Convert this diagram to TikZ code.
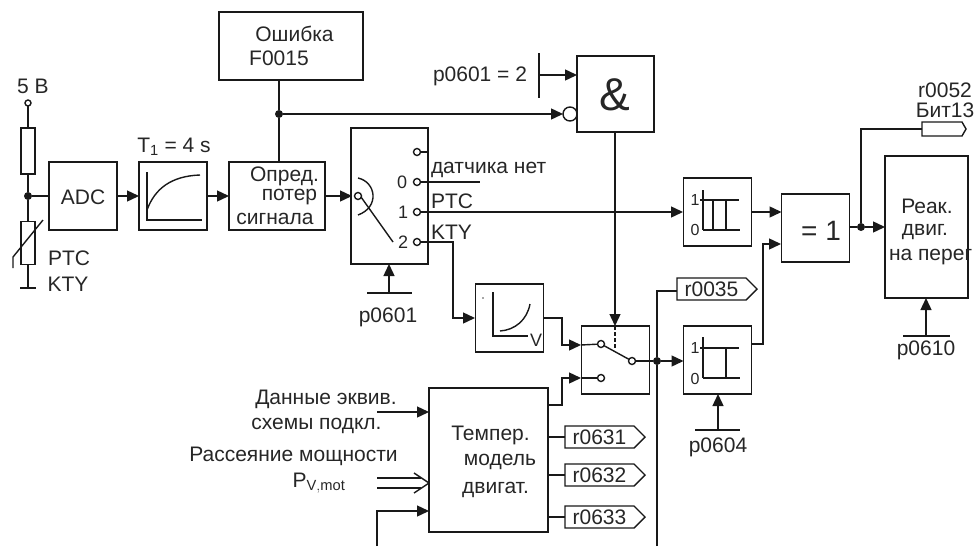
\documentclass[tikz,border=0pt]{standalone}
\usepackage{fontspec}
\setmainfont{Liberation Sans}
\usetikzlibrary{arrows.meta,shapes.symbols,calc}
\tikzset{
  x=1pt,y=-1pt,
  every node/.style={inner sep=0pt,outer sep=0pt,text=black!85},
  ln/.style={line width=1.4pt,draw=black!90},
  blockbox/.style={draw=black!90,line width=1.4pt,rectangle,minimum width=#1},
  blockbox/.default=68pt,
  txt/.style={font=\fontsize{21}{23}\selectfont},
  small/.style={font=\fontsize{16}{18}\selectfont},
  tag/.style={signal,signal to=east,draw=black!90,line width=1.4pt,minimum width=80pt,minimum height=22pt,font=\fontsize{21}{23}\selectfont},
  term/.style={circle,draw=black!90,line width=1.4pt,fill=white,minimum size=7pt},
  dotj/.style={circle,fill=black!90,minimum size=8pt},
  arr/.style={ln,-{Triangle[length=12pt,width=11pt]}},
}
\begin{document}
\begin{tikzpicture}
\useasboundingbox (0,0) rectangle (974,546);
% blocks
\node[blockbox,minimum width=68pt,minimum height=68pt] (adc) at (83,196) {};
\node[txt] at (83,197) {ADC};
\node[blockbox,minimum height=68pt] (lag) at (173,196) {};
\node[blockbox,minimum width=96pt,minimum height=68pt] (det) at (277,196) {};
\node[blockbox,minimum width=144pt,minimum height=68pt] (err) at (291,46) {};
\node[blockbox,minimum width=77pt,minimum height=136pt] (sel) at (389.5,196) {};
\node[blockbox,minimum width=77pt,minimum height=76pt] (and) at (615.5,94) {};
\node[blockbox,minimum height=68pt] (vblk) at (509.5,318) {};
\node[blockbox,minimum height=68pt] (sw) at (615.5,360) {};
\node[blockbox,minimum width=119pt,minimum height=144pt] (model) at (488.5,460) {};
\node[blockbox,minimum height=68pt] (hyst) at (717.5,212) {};
\node[blockbox,minimum height=68pt] (comp) at (717.5,360) {};
\node[blockbox,minimum height=68pt] (xor) at (815.5,228) {};
\node[blockbox,minimum width=83pt,minimum height=142pt] (react) at (926.5,227) {};
% tags
\node[tag] (t35) at (711.5,289) {r0035};
\node[tag] (t31) at (599.5,437) {r0631};
\node[tag] (t32) at (599.5,475) {r0632};
\node[tag] (t33) at (599.5,517) {r0633};
\node[tag,signal pointer angle=120,minimum width=44pt,minimum height=14pt] (t52) at (942,129) {};
% block texts
\node[txt] at (294.5,34) {Ошибка};
\node[txt] at (279,58) {F0015};
\node[txt] at (284.5,176) {Опред.};
\node[txt] at (289.5,197) {потер};
\node[txt] at (275,219) {сигнала};
\node[txt,font=\fontsize{46}{48}\selectfont] at (615,95) {\&};
\node[txt,font=\fontsize{28}{30}\selectfont] at (821,231) {= 1};
\node[txt] at (927,206) {Реак.};
\node[txt] at (925,232) {двиг.};
\begin{scope}
\clip (887,245) rectangle (971,270);
\node[txt,anchor=west] at (889,257) {на перег};
\end{scope}
\node[txt] at (490.5,435) {Темпер.};
\node[txt] at (500,462) {модель};
\node[txt] at (495.5,490) {двигат.};
% labels
\node[txt] (l5v) at (33,86) {5 В};
\node[txt] (lptc) at (69,258) {PTC};
\node[txt] (lkty) at (68,284) {KTY};
\node[txt] (lt1) at (174,147) {T$_{\mathrm 1}$ = 4 s};
\node[txt] (lp2) at (480,76) {p0601 = 2};
\node[txt,anchor=west] (ln0) at (431,170) {датчика нет};
\node[txt,anchor=west] (lnp) at (431,201) {PTC};
\node[txt,anchor=west] (lnk) at (431,232) {KTY};
\node[small,font=\fontsize{18}{20}\selectfont] (n0) at (402,182) {0};
\node[small,font=\fontsize{18}{20}\selectfont] (n1) at (403,212) {1};
\node[small,font=\fontsize{18}{20}\selectfont] (n2) at (403,242) {2};
\node[txt] (lp601) at (388,317) {p0601};
\node[txt] (lp604) at (718,447) {p0604};
\node[txt] (lp610) at (926,350) {p0610};
\node[txt] (l52) at (945,90) {r0052};
\node[txt] (lbit) at (945,110) {Бит13};
\node[txt] (ld1) at (326,399) {Данные эквив.};
\node[txt] (ld2) at (316.5,426) {схемы подкл.};
\node[txt] (lr) at (293.5,456) {Рассеяние мощности};
\node[txt] (lpv) at (319,483) {P$_{\mathrm{V,mot}}$};
\node[small,font=\fontsize{18}{20}\selectfont] (lv) at (536,340) {V};
\node[small] (h1) at (695,200) {1};
\node[small] (h0) at (695,230) {0};
\node[small] (c1) at (695,348) {1};
\node[small] (c0) at (695,379) {0};
% sensor branch
\node[term,minimum size=6pt] (v5) at (28,103) {};
\node[blockbox,minimum width=14pt,minimum height=46pt] (res) at (28,151) {};
\node[blockbox,minimum width=14pt,minimum height=43pt] (ptc) at (28,243) {};
\node[dotj] (j1) at (28,196) {};
\coordinate (gnd) at (28,288);
\draw[ln] (v5) -- (res) -- (j1) -- (ptc) -- (gnd);
\draw[ln] (20,288) -- (36,288);
\draw[ln] (j1) -- (adc);
\draw[ln] (13,268) -- (13,257) -- (43,220);
\draw[arr] (adc) -- (lag);
\draw[arr] (lag) -- (det);
\draw[ln] (147,172) -- (147,220) -- (202,220);
\draw[ln] (147,210) .. controls (155,188) and (172,176) .. (200,175);
% error
\node[dotj] (j2) at (279,114) {};
\draw[ln] (err.south -| j2) -- (j2) -- (det.north -| j2);
\node[term,minimum size=14pt] (neg) at (570,114) {};
\draw[arr] (j2) -- (neg);
% p0601=2
\coordinate (barA) at (539,75);
\draw[ln] (539,53) -- (539,98);
\coordinate (andIn) at (577,75);
\draw[arr] (barA) -- (andIn);
% selector
\node[term] (s0) at (358,196) {};
\draw[arr] (det.east) -- (352,196);
\node[term] (c3) at (417,152) {};
\node[term] (c4) at (417,182) {};
\node[term] (c5) at (417,212) {};
\node[term] (c6) at (417,242) {};
\draw[ln] (c3) -- (428,152);
\coordinate (e0) at (480,182);
\draw[ln] (c4) -- (e0);
\coordinate (hi) at (683,212);
\draw[arr] (c5) -- (hi);
\coordinate (vIn) at (475,318);
\draw[arr] (c6) -- (453,242) -- (453,318) -- (vIn);
\draw[ln] (361,197) -- (393,242);
\draw[ln] (358,178) .. controls (376,182) and (380,207) .. (358,215);
\coordinate (b601) at (389,293);
\draw[ln] (367,293) -- (412,293);
\draw[arr] (b601) -- (sel.south -| b601);
% V block
\draw[ln] (493,292) -- (493,336) -- (528,336);
\draw[ln] (500,331) .. controls (515,330) and (527,320) .. (530,304);
\fill[black!70] (483,298) circle (.8pt);
% switch
\coordinate (swT) at (615,326);
\draw[arr] (and.south -| swT) -- (swT);
\draw[ln,dash pattern=on 4pt off 2pt] (615,326) -- (615,348);
\node[term] (k1) at (601,344) {};
\node[term] (k2) at (601,378) {};
\node[term] (k3) at (632,361) {};
\coordinate (swA) at (581,345);
\coordinate (swB) at (581,378);
\draw[ln] (k1) -- (k3);
\draw[arr] (vblk.east |- 0,318) -- (562,318) -- (562,345) -- (swA);
\draw[arr] (model.east |- 0,405) -- (562,405) -- (562,378) -- (swB);
\draw[ln] (swA) -- (k1);
\draw[ln] (swB) -- (k2);
\node[dotj] (j3) at (657,361) {};
\draw[ln] (k3) -- (j3);
\draw[arr] (j3) -- (comp.west |- j3);
\coordinate (vb) at (657,546);
\draw[ln] (vb) -- (j3) -- (657,291) -- (t35.west |- 0,291);
% model outputs
\draw[ln] (model.east |- t31) -- (t31.west);
\draw[ln] (model.east |- t32) -- (t32.west);
\draw[ln] (model.east |- t33) -- (t33.west);
% model inputs
\coordinate (mi1) at (377,412);
\draw[arr] (mi1) -- (model.west |- mi1);
\coordinate (mi3) at (377,546);
\draw[arr] (mi3) -- (377,511) -- (429,511);
\draw[ln] (377,478) -- (421,478);
\draw[ln] (377,488) -- (421,488);
\draw[ln,line join=round] (414,473) -- (429,483) -- (414,493);
% hysteresis
\draw[ln] (703,190) -- (703,230);
\draw[ln] (700,200) -- (739,200);
\draw[ln] (703,230) -- (740,230);
\draw[ln] (713,200) -- (713,230);
\draw[ln] (726,200) -- (726,230);
\draw[ln] (703,337) -- (703,378);
\draw[ln] (700,348) -- (739,348);
\draw[ln] (703,378) -- (740,378);
\draw[ln] (726,348) -- (726,378);
\coordinate (b604) at (718,430);
\draw[ln] (695,430) -- (740,430);
\draw[arr] (b604) -- (comp.south -| b604);
% xor
\draw[arr] (hyst.east) -- (xor.west |- hyst);
\draw[arr] (comp.east |- 0,344) -- (763,344) -- (763,244) -- (781,244);
\node[dotj] (j4) at (861,227) {};
\draw[ln] (xor.east |- j4) -- (j4);
\draw[arr] (j4) -- (react.west |- j4);
\draw[ln] (j4) -- (861,129) -- (t52.west);
\coordinate (b610) at (926,336);
\draw[ln] (903,336) -- (950,336);
\draw[arr] (b610) -- (react.south -| b610);
\end{tikzpicture}
\end{document}
